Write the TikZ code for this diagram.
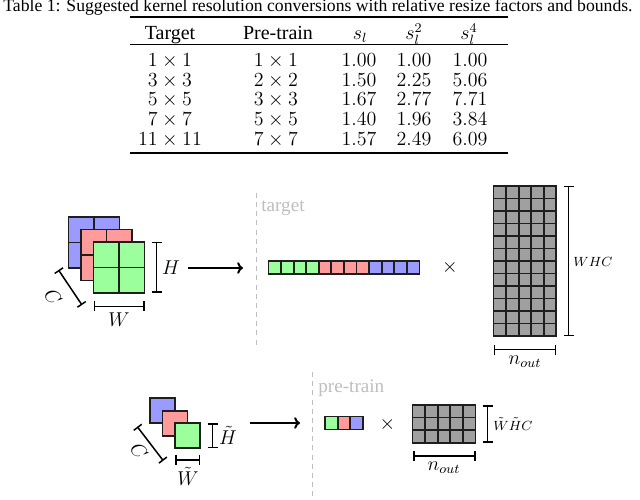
\documentclass[tikz,border=0pt]{standalone}
\usepackage{fontspec}
\setmainfont{Liberation Serif}
\usetikzlibrary{arrows.meta}
\definecolor{kgreen}{RGB}{155,255,155}
\definecolor{kred}{RGB}{255,155,155}
\definecolor{kblue}{RGB}{155,155,255}
\definecolor{kgray}{RGB}{160,160,160}
\definecolor{kedge}{RGB}{30,30,30}
\definecolor{klabel}{RGB}{190,190,190}
\begin{document}
\begin{tikzpicture}[x=0.6pt,y=-0.6pt,
  sq/.style={draw=kedge,line width=1.1pt},
  cellbox/.style={draw=kedge,line width=1.1pt},
  dimline/.style={line width=0.9pt,{Bar[width=6pt]}-{Bar[width=6pt]}},
  sep/.style={draw=klabel,line width=0.6pt,dash pattern=on 3pt off 2.5pt},
  graylabel/.style={text=klabel,inner sep=0pt,anchor=base west,font=\fontsize{11.5}{13}\selectfont},
  flow/.style={line width=1.2pt,-{To[length=3.5pt,width=7pt]}},
  lab/.style={inner sep=0pt,font=\fontsize{12}{14}\selectfont},
  smalllab/.style={inner sep=0pt,font=\fontsize{8}{9}\selectfont},
  cell/.style={inner sep=0pt,anchor=base,font=\fontsize{12}{14}\selectfont}]
\useasboundingbox (0,0) rectangle (640,500);

% ---------------- table ----------------
\node[inner sep=0pt,anchor=base,font=\fontsize{10.6}{12}\selectfont] (caption) at (318,12) {Table 1: Suggested kernel resolution conversions with relative resize factors and bounds.};
\draw[line width=0.8pt] (130,17) -- (508,17);
\draw[line width=0.5pt] (130,44) -- (508,44);
\draw[line width=0.8pt] (130,153) -- (508,153);
\node[cell] (h1) at (170,39.5) {Target};
\node[cell] (h2) at (278,39.5) {Pre-train};
\node[cell] (h3) at (360,39.5) {$s_l$};
\node[cell] (h4) at (414,39.5) {$s_l^2$};
\node[cell] (h5) at (469,39.5) {$s_l^4$};
\foreach \t/\p/\a/\b/\c [count=\i] in {
  1\times 1/1\times 1/1.00/1.00/1.00,
  3\times 3/2\times 2/1.50/2.25/5.06,
  5\times 5/3\times 3/1.67/2.77/7.71,
  7\times 7/5\times 5/1.40/1.96/3.84,
  11\times 11/7\times 7/1.57/2.49/6.09}{
  \pgfmathsetmacro{\yy}{66.5+19.7*(\i-1)}
  \node[cell] (r\i c1) at (170,\yy) {$\t$};
  \node[cell] (r\i c2) at (276,\yy) {$\p$};
  \node[cell] (r\i c3) at (359,\yy) {$\a$};
  \node[cell] (r\i c4) at (414,\yy) {$\b$};
  \node[cell] (r\i c5) at (470,\yy) {$\c$};
}

% ---------------- target (top) ----------------
\foreach \x/\y/\col in {68.5/217/kblue,81/229.5/kred,93.5/242/kgreen}{
  \draw[sq,fill=\col] (\x,\y) rectangle ++(51,51);
  \draw[sq] (\x+25.5,\y) -- ++(0,51) (\x,\y+25.5) -- ++(51,0);
}
\draw[dimline] (156.5,242) -- (156.5,293);
\node[lab] (H) at (171,267.5) {$H$};
\draw[dimline] (93.5,306.5) -- (144.5,306.5);
\node[lab] (W) at (119,319.5) {$W$};
\draw[dimline] (58.5,270) -- (82,305);
\node[lab,rotate=-56] (C) at (53,297) {$C$};

\coordinate (a1s) at (188,268);
\coordinate (a1e) at (243,268);
\draw[flow] (a1s) -- (a1e);

\coordinate (d1t) at (256,193);
\coordinate (d1b) at (256,345);
\draw[sep] (d1t) -- (d1b);
\node[graylabel] (tgt) at (261,212) {target};

\foreach \k/\col in {0/kgreen,1/kgreen,2/kgreen,3/kgreen,4/kred,5/kred,6/kred,7/kred,8/kblue,9/kblue,10/kblue,11/kblue}{
  \draw[cellbox,fill=\col] (268.5+12.58*\k,261) rectangle ++(12.58,13);
}
\node[lab] (x1) at (450,268) {$\times$};

\foreach \i in {0,...,4}{
  \foreach \j in {0,...,11}{
    \draw[cellbox,fill=kgray] (493.5+12.55*\i,186+12.5*\j) rectangle ++(12.55,12.5);
  }
}
\draw[dimline] (568.5,186) -- (568.5,336);
\node[smalllab] (WHC) at (593,262) {$WHC$};
\draw[dimline] (493.5,349.5) -- (556.3,349.5);
\node[lab] (n1) at (525,362) {$n_{out}$};

% ---------------- pre-train (bottom) ----------------
\foreach \x/\y/\col in {150/398.3/kblue,162.5/410.8/kred,175/423.3/kgreen}{
  \draw[sq,fill=\col] (\x,\y) rectangle ++(25,25);
}
\draw[dimline] (212.5,423.3) -- (212.5,448.3);
\node[lab] (Ht) at (228,435) {$\tilde H$};
\draw[dimline] (175,460) -- (200,460);
\node[lab] (Wt) at (188,476) {$\tilde W$};
\draw[dimline] (137.3,426.7) -- (163.3,460.7);
\node[lab,rotate=-56] (Cb) at (139,451) {$C$};

\coordinate (a2s) at (249.5,423);
\coordinate (a2e) at (300,423);
\draw[flow] (a2s) -- (a2e);

\coordinate (d2t) at (312.5,372);
\coordinate (d2b) at (312.5,500);
\draw[sep] (d2t) -- (d2b);
\node[graylabel] (pre) at (318,392) {pre-train};

\foreach \k/\col in {0/kgreen,1/kred,2/kblue}{
  \draw[cellbox,fill=\col] (325+12.67*\k,416.5) rectangle ++(12.67,13);
}
\node[lab] (x2) at (387.5,424) {$\times$};

\foreach \i in {0,...,4}{
  \foreach \j in {0,...,2}{
    \draw[cellbox,fill=kgray] (412.5+12.6*\i,405+12.57*\j) rectangle ++(12.6,12.57);
  }
}
\draw[dimline] (487.7,405) -- (487.7,442.7);
\node[smalllab] (WHCt) at (513,424) {$\tilde W\tilde H C$};
\draw[dimline] (413,456) -- (475.5,456);
\node[lab] (n2) at (444,467.5) {$n_{out}$};
\end{tikzpicture}
\end{document}
